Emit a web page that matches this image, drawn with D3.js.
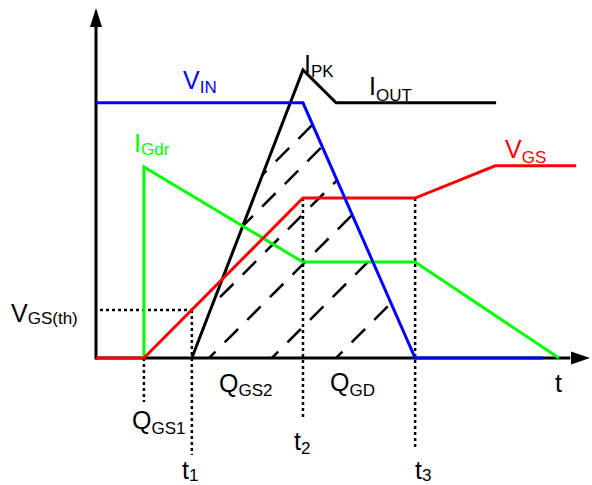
<!DOCTYPE html>
<html>
<head>
<meta charset="utf-8">
<script src="https://cdn.jsdelivr.net/npm/d3@7"></script>
<style>
  body { margin: 0; background: #fff; }
  text { font-family: "Liberation Sans", Arial, sans-serif; }
</style>
</head>
<body>
<div id="chart"></div>
<script>
// waveform data (time and level in arbitrary units, 0..100)
var vinTime = [0, 41.9, 64.6, 90.5];
var vinValue = [72.9, 72.9, 0, 0];

var idTime = [19.4, 41.9, 48.6, 81.0];
var idValue = [0, 82.3, 72.9, 72.9];

var vgsTime = [0, 9.7, 41.9, 64.6, 80.8, 97.2];
var vgsValue = [0, 0, 45.7, 45.7, 54.9, 54.9];

var igdrTime = [9.7, 9.7, 41.9, 64.6, 93.7];
var igdrValue = [0, 54.6, 27.4, 27.4, 0];

// switching instants and threshold level
var markerTime = [9.7, 19.4, 41.9, 64.6];
var markerValue = [0, 13.7, 45.7, 45.7];
var vgsThreshold = 13.7;

// hatch lines (where each 45 deg line meets the time axis)
var hatchStart = [-3.4, 3.0, 12.8, 22.9, 35.6, 48.6];

var timeLabels = ["1", "2", "3"];
var chargeLabels = ["GS1", "GS2", "GD"];

// styling
var svgWidth = 592;
var svgHeight = 485;

var svg = d3.select("#chart")
  .append("svg")
  .attr("width", svgWidth)
  .attr("height", svgHeight);

var xScale = d3.scaleLinear().domain([0, 100]).range([96, 590]);
var yScale = d3.scaleLinear().domain([0, 100]).range([358, 8]);

function toPoints(ts, vs) {
  return ts.map(function(t, i) { return [t, vs[i]]; });
}

var line = d3.line()
  .x(d => xScale(d[0]))
  .y(d => yScale(d[1]));

// hatched area clip (between rising I_D and falling V_IN)
var idRise = d3.scaleLinear().domain([idValue[0], idValue[1]]).range([idTime[0], idTime[1]]);
var clipPts = [
  [idTime[0], 0],
  [idRise(vinValue[0]), vinValue[0]],
  [vinTime[1], vinValue[1]],
  [vinTime[2], vinValue[2]]
];
svg.append("clipPath")
  .attr("id", "hatchClip")
  .append("path")
  .attr("d", line(clipPts) + "Z");

var hatch = svg.append("g").attr("clip-path", "url(#hatchClip)");
hatchStart.forEach(function(t) {
  var x0 = xScale(t), y0 = yScale(0);
  hatch.append("line")
    .attr("x1", x0).attr("y1", y0)
    .attr("x2", x0 + 400).attr("y2", y0 - 400)
    .attr("stroke", "#000")
    .attr("stroke-width", 2.5)
    .attr("stroke-dasharray", "19,13")
    .attr("stroke-dashoffset", 10);
});

// axes
svg.append("line")
  .attr("x1", xScale(0)).attr("y1", yScale(0))
  .attr("x2", xScale(96)).attr("y2", yScale(0))
  .attr("stroke", "#000").attr("stroke-width", 3);
svg.append("path")
  .attr("d", "M" + xScale(100) + "," + yScale(0) + "l-19,-6.5v13z")
  .attr("fill", "#000");

svg.append("line")
  .attr("x1", xScale(0)).attr("y1", yScale(0) + 1.5)
  .attr("x2", xScale(0)).attr("y2", yScale(95))
  .attr("stroke", "#000").attr("stroke-width", 3);
svg.append("path")
  .attr("d", "M" + xScale(0) + "," + yScale(100) + "l-6,19h12z")
  .attr("fill", "#000");

// dotted guides
var dotted = { stroke: "#000", width: 2.5, dash: "3,3" };
var guideBottom = [402, 455, 418, 450];
markerTime.forEach(function(t, i) {
  svg.append("line")
    .attr("x1", xScale(t)).attr("y1", yScale(markerValue[i]))
    .attr("x2", xScale(t)).attr("y2", guideBottom[i])
    .attr("stroke", dotted.stroke)
    .attr("stroke-width", dotted.width)
    .attr("stroke-dasharray", dotted.dash);
});
svg.append("line")
  .attr("x1", xScale(0) + 4).attr("y1", yScale(vgsThreshold))
  .attr("x2", xScale(markerTime[1])).attr("y2", yScale(vgsThreshold))
  .attr("stroke", dotted.stroke)
  .attr("stroke-width", dotted.width)
  .attr("stroke-dasharray", dotted.dash);

// waveforms
var waves = [
  { pts: toPoints(idTime, idValue), color: "#000" },
  { pts: toPoints(igdrTime, igdrValue), color: "#00ff00" },
  { pts: toPoints(vgsTime, vgsValue), color: "#ff0000" },
  { pts: toPoints(vinTime, vinValue), color: "#0000ff" }
];
waves.forEach(function(w) {
  svg.append("path")
    .attr("d", line(w.pts))
    .attr("fill", "none")
    .attr("stroke", w.color)
    .attr("stroke-width", 3)
    .attr("stroke-linejoin", "miter");
});

// labels
function label(x, y, main, sub, color, subDy) {
  var t = svg.append("text")
    .attr("x", x).attr("y", y)
    .attr("fill", color)
    .attr("font-size", "25px");
  t.append("tspan").text(main);
  if (sub) {
    t.append("tspan")
      .attr("font-size", "17px")
      .attr("dy", subDy || 5)
      .text(sub);
  }
}

label(183, 89, "V", "IN", "#0000ff", 4);
label(304, 73, "I", "PK", "#000", 4);
label(369, 95, "I", "OUT", "#000", 6);
label(505, 158, "V", "GS", "#ff0000", 5);
label(134, 152, "I", "Gdr", "#00ff00", 3);
label(11, 322, "V", "GS(th)", "#000", 2);

label(132, 429, "Q", chargeLabels[0], "#000", 5);
label(219, 392, "Q", chargeLabels[1], "#000", 4);
label(330, 391, "Q", chargeLabels[2], "#000", 5);

label(182, 479, "t", timeLabels[0], "#000", 2);
label(294, 450, "t", timeLabels[1], "#000", 4);
label(415, 479, "t", timeLabels[2], "#000", 2);
label(555, 392, "t", null, "#000");
</script>
</body>
</html>
